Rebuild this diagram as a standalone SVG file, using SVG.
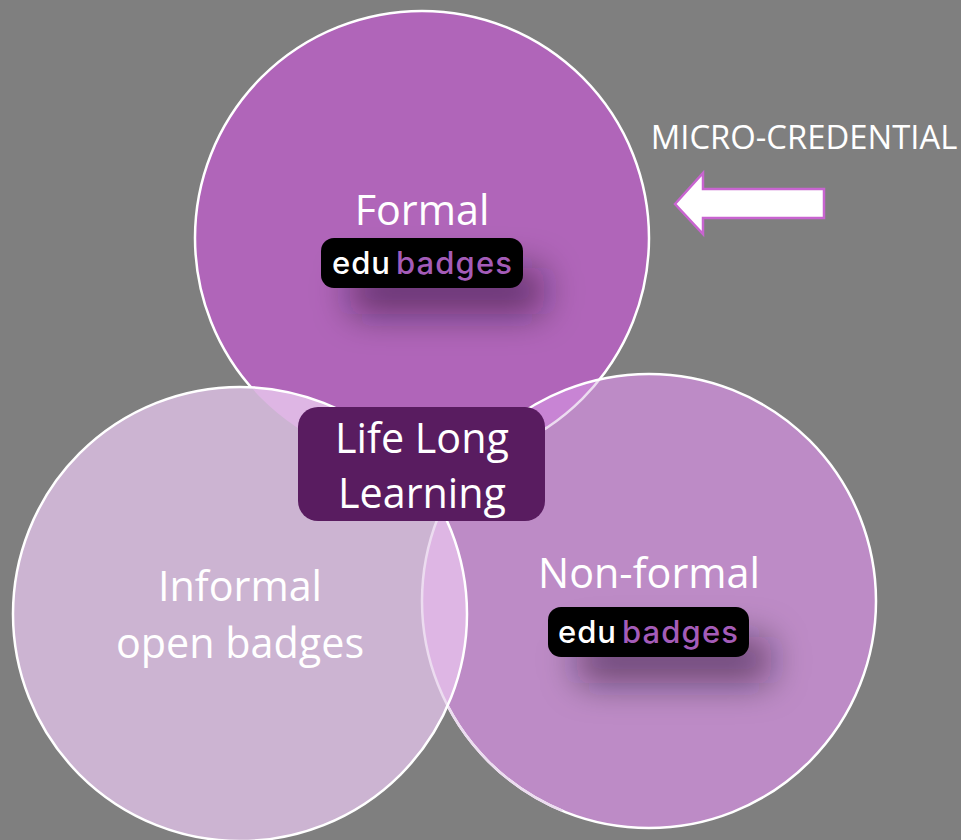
<svg xmlns="http://www.w3.org/2000/svg" width="961" height="840" viewBox="0 0 961 840">
<style>
.t{font-family:"Open Sans","Noto Sans","Liberation Sans",sans-serif;fill:#fff;text-anchor:middle}
.big{font-size:41.3px}
.ring{fill:none;stroke:#fff;stroke-width:2.5}
.pale{fill:none;stroke:#ecdcf0;stroke-width:2.5}
.e{font-family:Inter,Lato,"Open Sans",sans-serif;font-size:31px;font-weight:500}
.badge{fill:#000}
.sh{fill:#1a0a20;fill-opacity:.5;filter:url(#blur)}
</style>
<defs>
<filter id="blur" x="-40%" y="-120%" width="180%" height="340%"><feGaussianBlur stdDeviation="18"/></filter>
<clipPath id="cT"><circle cx="422" cy="238" r="227"/></clipPath>
<clipPath id="cR"><circle cx="649" cy="601" r="227"/></clipPath>
</defs>
<rect width="961" height="840" fill="#7f7f7f"/>
<g id="formal">
<circle cx="422" cy="238" r="227" fill="#b065b9"/>
<circle class="ring" cx="422" cy="238" r="227"/>
</g>
<g id="nonformal-circle">
<circle cx="649" cy="601" r="227" fill="#bd8bc6"/>
<circle cx="649" cy="601" r="227" fill="#c884d4" clip-path="url(#cT)"/>
<circle class="pale" cx="422" cy="238" r="227" clip-path="url(#cR)"/>
<circle class="ring" cx="649" cy="601" r="227"/>
</g>
<g id="informal-circle">
<circle cx="240" cy="614" r="227" fill="#ccb4d2"/>
<circle cx="240" cy="614" r="227" fill="#deb6e4" clip-path="url(#cT)"/>
<circle cx="240" cy="614" r="227" fill="#deb6e4" clip-path="url(#cR)"/>
<g style="clip-path:circle(227px at 240px 614px)">
<circle class="pale" cx="422" cy="238" r="227"/>
<circle class="pale" cx="649" cy="601" r="227"/>
</g>
<circle class="ring" cx="240" cy="614" r="227"/>
</g>
<g id="formal-label">
<text class="t big" x="422" y="225">Formal</text>
<rect class="sh" x="350" y="268" width="194" height="46" rx="12"/>
<rect class="badge" x="321" y="238" width="202" height="50" rx="13"/>
<text class="e" x="332" y="274" fill="#fff" textLength="58">edu</text>
<text class="e" x="396" y="274" fill="#a45cb8" textLength="116">badges</text>
</g>
<g id="nonformal-label">
<text class="t big" x="649" y="588">Non-formal</text>
<rect class="sh" x="577" y="637" width="194" height="46" rx="12"/>
<rect class="badge" x="548" y="607" width="201" height="50" rx="13"/>
<text class="e" x="558" y="643" fill="#fff" textLength="58">edu</text>
<text class="e" x="622" y="643" fill="#a45cb8" textLength="116">badges</text>
</g>
<g id="informal-label">
<text class="t big" x="240" y="601">Informal</text>
<text class="t big" x="240" y="658">open badges</text>
</g>
<g id="center">
<rect x="298" y="407" width="247" height="114" rx="20" fill="#591c60"/>
<text class="t big" x="422" y="453">Life Long</text>
<text class="t big" x="422" y="508">Learning</text>
</g>
<g id="connectors">
<polygon points="675,204 703,173 703,189 824,189 824,218 703,218 703,234" fill="#fff" stroke="#c864d0" stroke-width="2.5"/>
</g>
<g id="micro-label">
<text class="t" x="804" y="149" font-size="32.8">MICRO-CREDENTIAL</text>
</g>
</svg>
